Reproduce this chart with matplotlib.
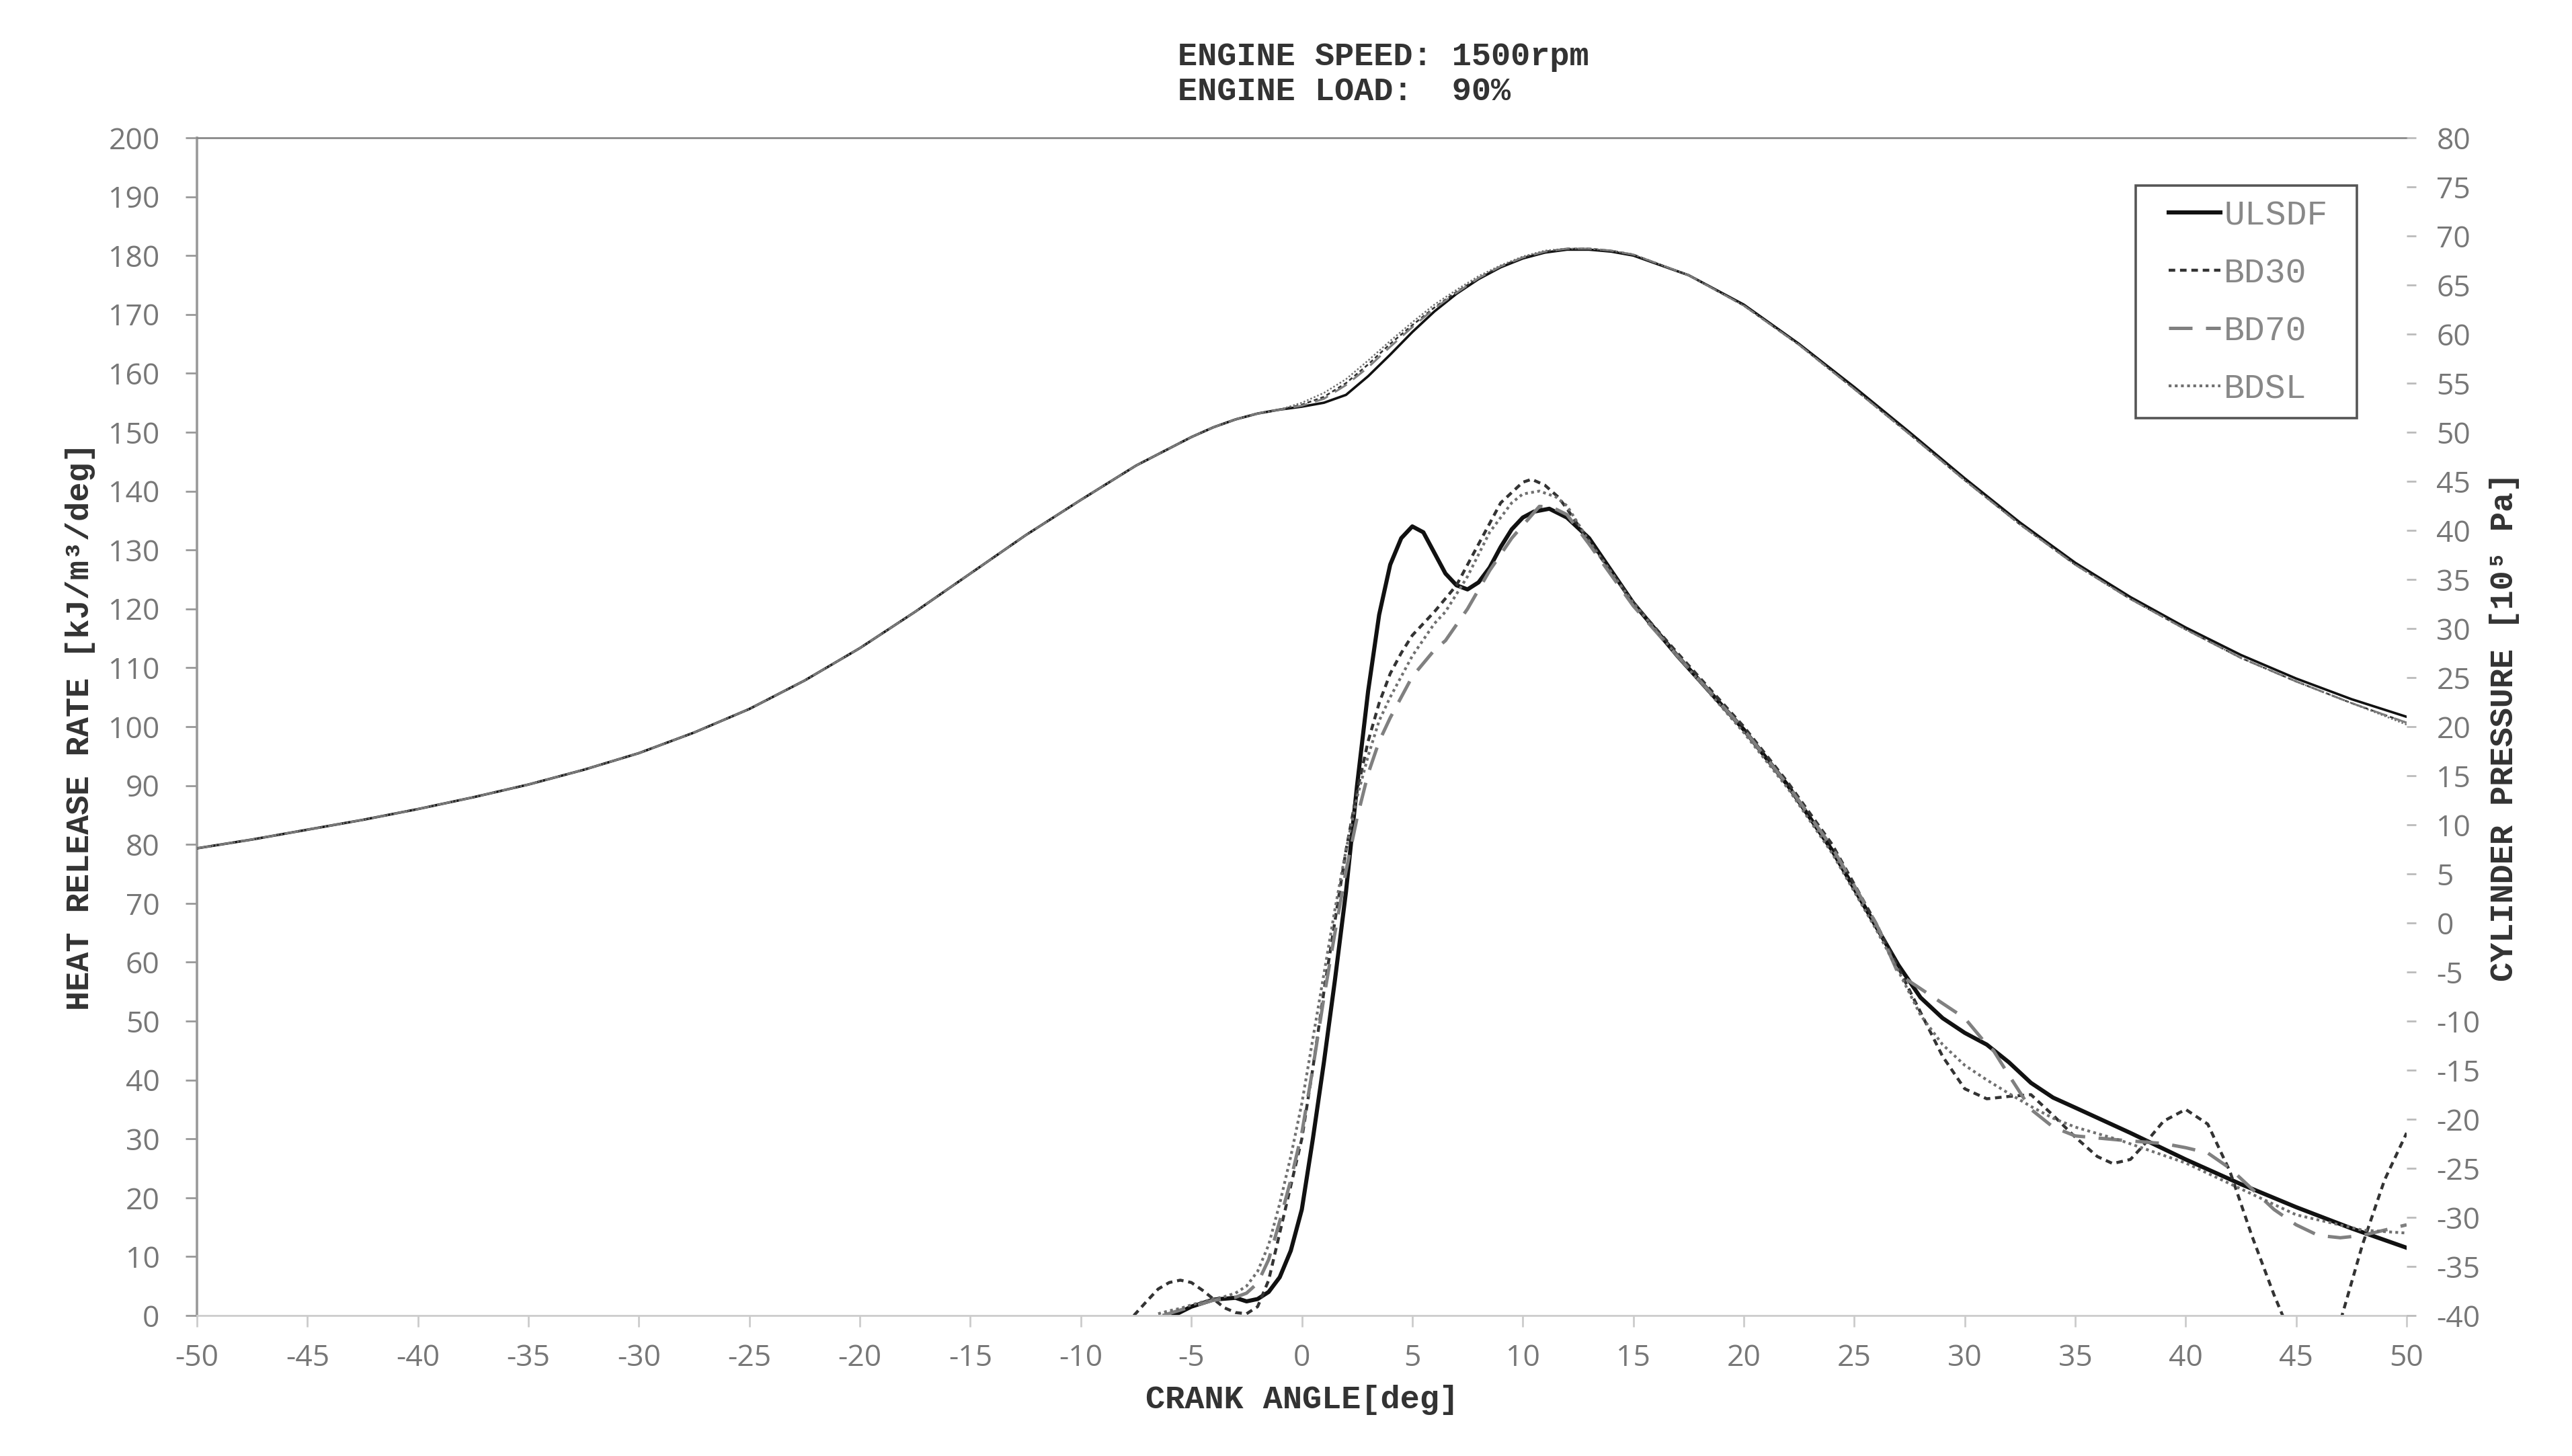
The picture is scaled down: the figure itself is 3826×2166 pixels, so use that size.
import numpy as np
import matplotlib.pyplot as plt
from matplotlib.patches import Rectangle

plt.rcParams['axes.unicode_minus'] = False

fuels = ['ULSDF', 'BD30', 'BD70', 'BDSL']

# cylinder pressure [bar], right axis
crank_p = [-50, -47.5, -45, -42.5, -40, -37.5, -35, -32.5, -30, -27.5, -25, -22.5, -20, -17.5, -15, -12.5,
           -10, -7.5, -5, -4, -3, -2, -1,
           0, 1, 2, 3, 4, 5, 6, 7, 8, 9, 10, 11, 12, 13, 14, 15,
           17.5, 20, 22.5, 25, 27.5, 30, 32.5, 35, 37.5, 40, 42.5, 45, 47.5, 50]
p_compression = [7.6, 8.5, 9.5, 10.5, 11.6, 12.8, 14.1, 15.6, 17.3, 19.4, 21.8, 24.7, 28.0, 31.7, 35.6, 39.5,
                 43.1, 46.6, 49.5, 50.5, 51.3, 51.9, 52.3]
p_ulsdf = p_compression + [52.6, 53.0, 53.8, 55.7, 57.9, 60.2, 62.3, 64.1, 65.6, 66.8, 67.7, 68.3, 68.6, 68.6, 68.4, 68.0,
                           66.0, 63.0, 59.0, 54.6, 50.0, 45.3, 40.8, 36.7, 33.2, 30.1, 27.3, 24.9, 22.8, 21.0]
p_bd30 = p_compression + [52.8, 53.6, 55.0, 56.9, 59.0, 60.9, 62.7, 64.3, 65.7, 66.9, 67.8, 68.4, 68.7, 68.7, 68.5, 68.1,
                          66.0, 62.9, 58.9, 54.4, 49.8, 45.1, 40.6, 36.5, 33.0, 29.9, 27.0, 24.6, 22.4, 20.4]
p_bd70 = p_compression + [52.7, 53.4, 54.8, 56.6, 58.7, 60.7, 62.6, 64.2, 65.7, 66.9, 67.8, 68.4, 68.7, 68.7, 68.5, 68.1,
                          66.0, 62.9, 58.9, 54.4, 49.8, 45.1, 40.6, 36.5, 33.0, 29.9, 27.0, 24.6, 22.4, 20.4]
p_bdsl = p_compression + [53.0, 54.0, 55.4, 57.3, 59.3, 61.2, 63.0, 64.5, 65.9, 67.0, 67.9, 68.5, 68.7, 68.7, 68.5, 68.1,
                          66.0, 62.9, 58.9, 54.4, 49.8, 45.1, 40.6, 36.5, 33.0, 29.9, 27.0, 24.6, 22.4, 20.2]

# heat release rate [kJ/m3/deg], left axis
hrr_x_ulsdf = [-5.8, -5, -4, -3, -2.5, -2, -1.5, -1, -0.5, 0, 0.5, 1, 1.5, 2, 2.5, 3, 3.5, 4, 4.5, 5,
               5.5, 6, 6.5, 7, 7.5, 8, 8.5, 9, 9.5, 10, 10.5, 11.2, 12, 13, 15, 17, 20, 22, 24, 26, 27,
               28, 29, 30, 31, 32, 33, 34, 35, 37.5, 40, 42.5, 45, 47.5, 50]
hrr_ulsdf = [0, 1.5, 2.7, 3.0, 2.4, 2.8, 4.0, 6.5, 11, 18, 30, 43, 57, 72, 90, 106, 119, 127.5, 132, 134,
             133, 129.5, 126, 124, 123.3, 124.5, 127, 130.5, 133.5, 135.5, 136.5, 137, 135.5, 132, 121, 112, 99.5, 90, 79, 66, 59.5,
             54, 50.5, 48, 46, 43, 39.5, 37, 35.3, 31, 26.5, 22.3, 18.4, 14.8, 11.5]

hrr_x_bd30 = [-7.6, -7, -6.5, -6, -5.5, -5, -4.5, -4, -3.5, -3, -2.5, -2, -1.5, -1, -0.5, 0, 0.5, 1, 1.5,
              2, 2.5, 3, 3.5, 4, 4.5, 5, 5.5, 6, 7, 8, 9, 10, 10.4, 11, 11.6, 12, 13, 15, 17, 20, 22, 24,
              26, 27, 28, 29, 30, 31, 32, 33, 34, 35, 36, 36.7, 37.5, 38, 39, 40, 41, 42, 43, 44, 44.5,
              45, 45.8, 46.5, 47, 48, 49, 50]
hrr_bd30 = [0, 2.5, 4.5, 5.6, 6.0, 5.6, 4.3, 2.8, 1.3, 0.5, 0.3, 1.5, 6, 14, 22, 30, 42, 55, 67,
            79, 89, 97.5, 104, 109, 112.5, 115.5, 117.5, 119.5, 124, 131, 138, 141.5, 142, 141, 139, 137, 131.5, 121, 112.5, 100, 90.5, 80,
            66.5, 59, 51.5, 44, 38.5, 36.8, 37.2, 37.5, 34, 30.3, 27, 25.8, 26.5, 28.5, 33, 35, 32.5, 24.5, 13.5, 3.5, -1,
            -5, -8, -5, -1, 12, 23, 31]

hrr_x_bd70 = [-6.3, -5, -4, -3, -2.5, -2, -1.5, -1, -0.5, 0, 0.5, 1, 1.5, 2, 2.5, 3, 3.5, 4, 5, 6, 6.5,
              7.5, 8.5, 9.5, 10.75, 11.3, 12, 13, 15, 17, 20, 22, 24, 26, 27, 28, 29, 30, 31, 31.3, 32, 33,
              34, 35, 37, 39, 40, 41, 42, 43, 44, 45, 46, 47, 48, 49, 50]
hrr_bd70 = [0, 1.5, 2.6, 3.1, 3.8, 5.5, 9.5, 16, 23, 31, 42, 54, 65, 75.5, 84.5, 92, 97.5, 101.5, 108.5, 113, 114.6,
            120, 126.5, 132, 137.4, 137.3, 136, 131, 120.5, 112, 99.5, 90, 79.5, 66.5, 58, 55.5, 53, 50.5, 46, 45, 40.8, 35,
            32, 30.5, 29.8, 29.2, 28.5, 27.6, 25, 21.5, 18, 15.4, 13.6, 13.2, 13.6, 14.5, 15.4]

hrr_x_bdsl = [-6.5, -6, -5.5, -5, -4.5, -4, -3.5, -3, -2.5, -2, -1.5, -1, -0.5, 0, 0.5, 1, 1.5, 2, 2.5,
              3, 3.5, 4, 5, 6, 6.5, 7.5, 8.5, 9.5, 10, 10.75, 11.5, 12, 13, 15, 17, 20, 22, 24, 26, 27, 28,
              29, 30, 31, 32, 33, 34, 35, 37, 40, 42.5, 45, 48, 50]
hrr_bdsl = [0.3, 0.8, 1.2, 1.8, 2.3, 2.8, 3.2, 3.8, 5, 7.5, 12, 19, 27, 36, 47, 58, 69, 79, 88,
            95, 101, 105, 112, 117.5, 119.5, 125.5, 133, 138, 139.5, 140, 139, 137.5, 131.5, 121, 112, 99, 89.5, 78.5, 65.5, 58.5, 51,
            46, 42.5, 40, 37.7, 35.5, 33.5, 32, 29.8, 25.9, 21.5, 17.1, 14.5, 14]

x_ticks = list(range(-50, 51, 5))
hrr_ticks = list(range(0, 201, 10))
p_ticks = list(range(-40, 81, 5))

styles = {
    'ULSDF': dict(color='#111111', linestyle='-', lw=2.2),
    'BD30': dict(color='#333333', linestyle=(0, (2.2, 1.6)), lw=1.6),
    'BD70': dict(color='#808080', linestyle=(0, (7, 4)), lw=1.8),
    'BDSL': dict(color='#707070', linestyle=(0, (1, 1.2)), lw=1.5),
}

mono = ['Liberation Mono', 'DejaVu Sans Mono']
tick_font = 'Open Sans'
grey = '#777777'

fig = plt.figure(figsize=(19.13, 10.83), dpi=200)
ax = fig.add_axes([0.0766, 0.0965, 0.8591, 0.8089])
ax2 = ax.twinx()

hrr_data = {
    'ULSDF': (hrr_x_ulsdf, hrr_ulsdf),
    'BD30': (hrr_x_bd30, hrr_bd30),
    'BD70': (hrr_x_bd70, hrr_bd70),
    'BDSL': (hrr_x_bdsl, hrr_bdsl),
}
p_data = {'ULSDF': p_ulsdf, 'BD30': p_bd30, 'BD70': p_bd70, 'BDSL': p_bdsl}

handles = []
for f in fuels:
    st = styles[f]
    xs, ys = hrr_data[f]
    h, = ax.plot(xs, ys, color=st['color'], linestyle=st['linestyle'], lw=st['lw'], label=f)
    handles.append(h)
    ax2.plot(crank_p, p_data[f], color=st['color'], linestyle=st['linestyle'], lw=st['lw'] * 0.6)

ax.set_xlim(-50, 50)
ax.set_ylim(0, 200)
ax2.set_ylim(-40, 80)
ax.set_xticks(x_ticks)
ax.set_yticks(hrr_ticks)
ax2.set_yticks(p_ticks)

for a in (ax, ax2):
    for side in ('left', 'right', 'top', 'bottom'):
        a.spines[side].set_visible(False)
ax.spines['left'].set_visible(True)
ax.spines['bottom'].set_visible(True)
ax.spines['top'].set_visible(True)
ax.spines['left'].set_color('#999999')
ax.spines['bottom'].set_color('#cccccc')
ax.spines['top'].set_color('#888888')
ax.spines['left'].set_linewidth(1.3)
ax.spines['bottom'].set_linewidth(1.0)
ax.spines['top'].set_linewidth(1.0)

ax.tick_params(axis='y', length=6, width=1, color='#999999', pad=14, labelsize=16, labelcolor=grey)
ax.tick_params(axis='x', length=6, width=1, color='#cccccc', pad=9, labelsize=16, labelcolor=grey)
ax2.tick_params(axis='y', length=5, width=1, color='#bbbbbb', pad=11, labelsize=16, labelcolor=grey)
for lab in ax.get_xticklabels() + ax.get_yticklabels() + ax2.get_yticklabels():
    lab.set_fontfamily(tick_font)

ax.set_xlabel('CRANK ANGLE[deg]', fontsize=17.5, fontweight='bold', family=mono, color='#333333', labelpad=6)
ax.set_ylabel('HEAT RELEASE RATE [kJ/m³/deg]', fontsize=17.5, fontweight='bold', family=mono,
              color='#333333', labelpad=7)
ax2.set_ylabel('CYLINDER PRESSURE [10⁵ Pa]', fontsize=17.5, fontweight='bold', family=mono,
               color='#333333', labelpad=5, rotation=90)

fig.text(0.458, 0.961, 'ENGINE SPEED: 1500rpm', fontsize=17.5, fontweight='bold', family=mono,
         color='#333333', ha='left', va='center')
fig.text(0.458, 0.937, 'ENGINE LOAD:  90%', fontsize=17.5, fontweight='bold', family=mono,
         color='#333333', ha='left', va='center')

# legend box drawn separately so its padding can match the original
ax2.add_patch(Rectangle((0.8774, 0.762), 0.1001, 0.1975, transform=ax2.transAxes, fill=False,
                        edgecolor='#555555', linewidth=1.3, zorder=5))
leg = ax2.legend(handles=handles, loc='upper left', bbox_to_anchor=(0.8923, 0.948), borderaxespad=0,
                 frameon=False, handlelength=1.5, handletextpad=0.1, labelspacing=0.72,
                 borderpad=0, prop={'family': mono, 'size': 18.5})
for t in leg.get_texts():
    t.set_color('#888888')

fig.savefig('out.png', dpi=200, facecolor='white')
